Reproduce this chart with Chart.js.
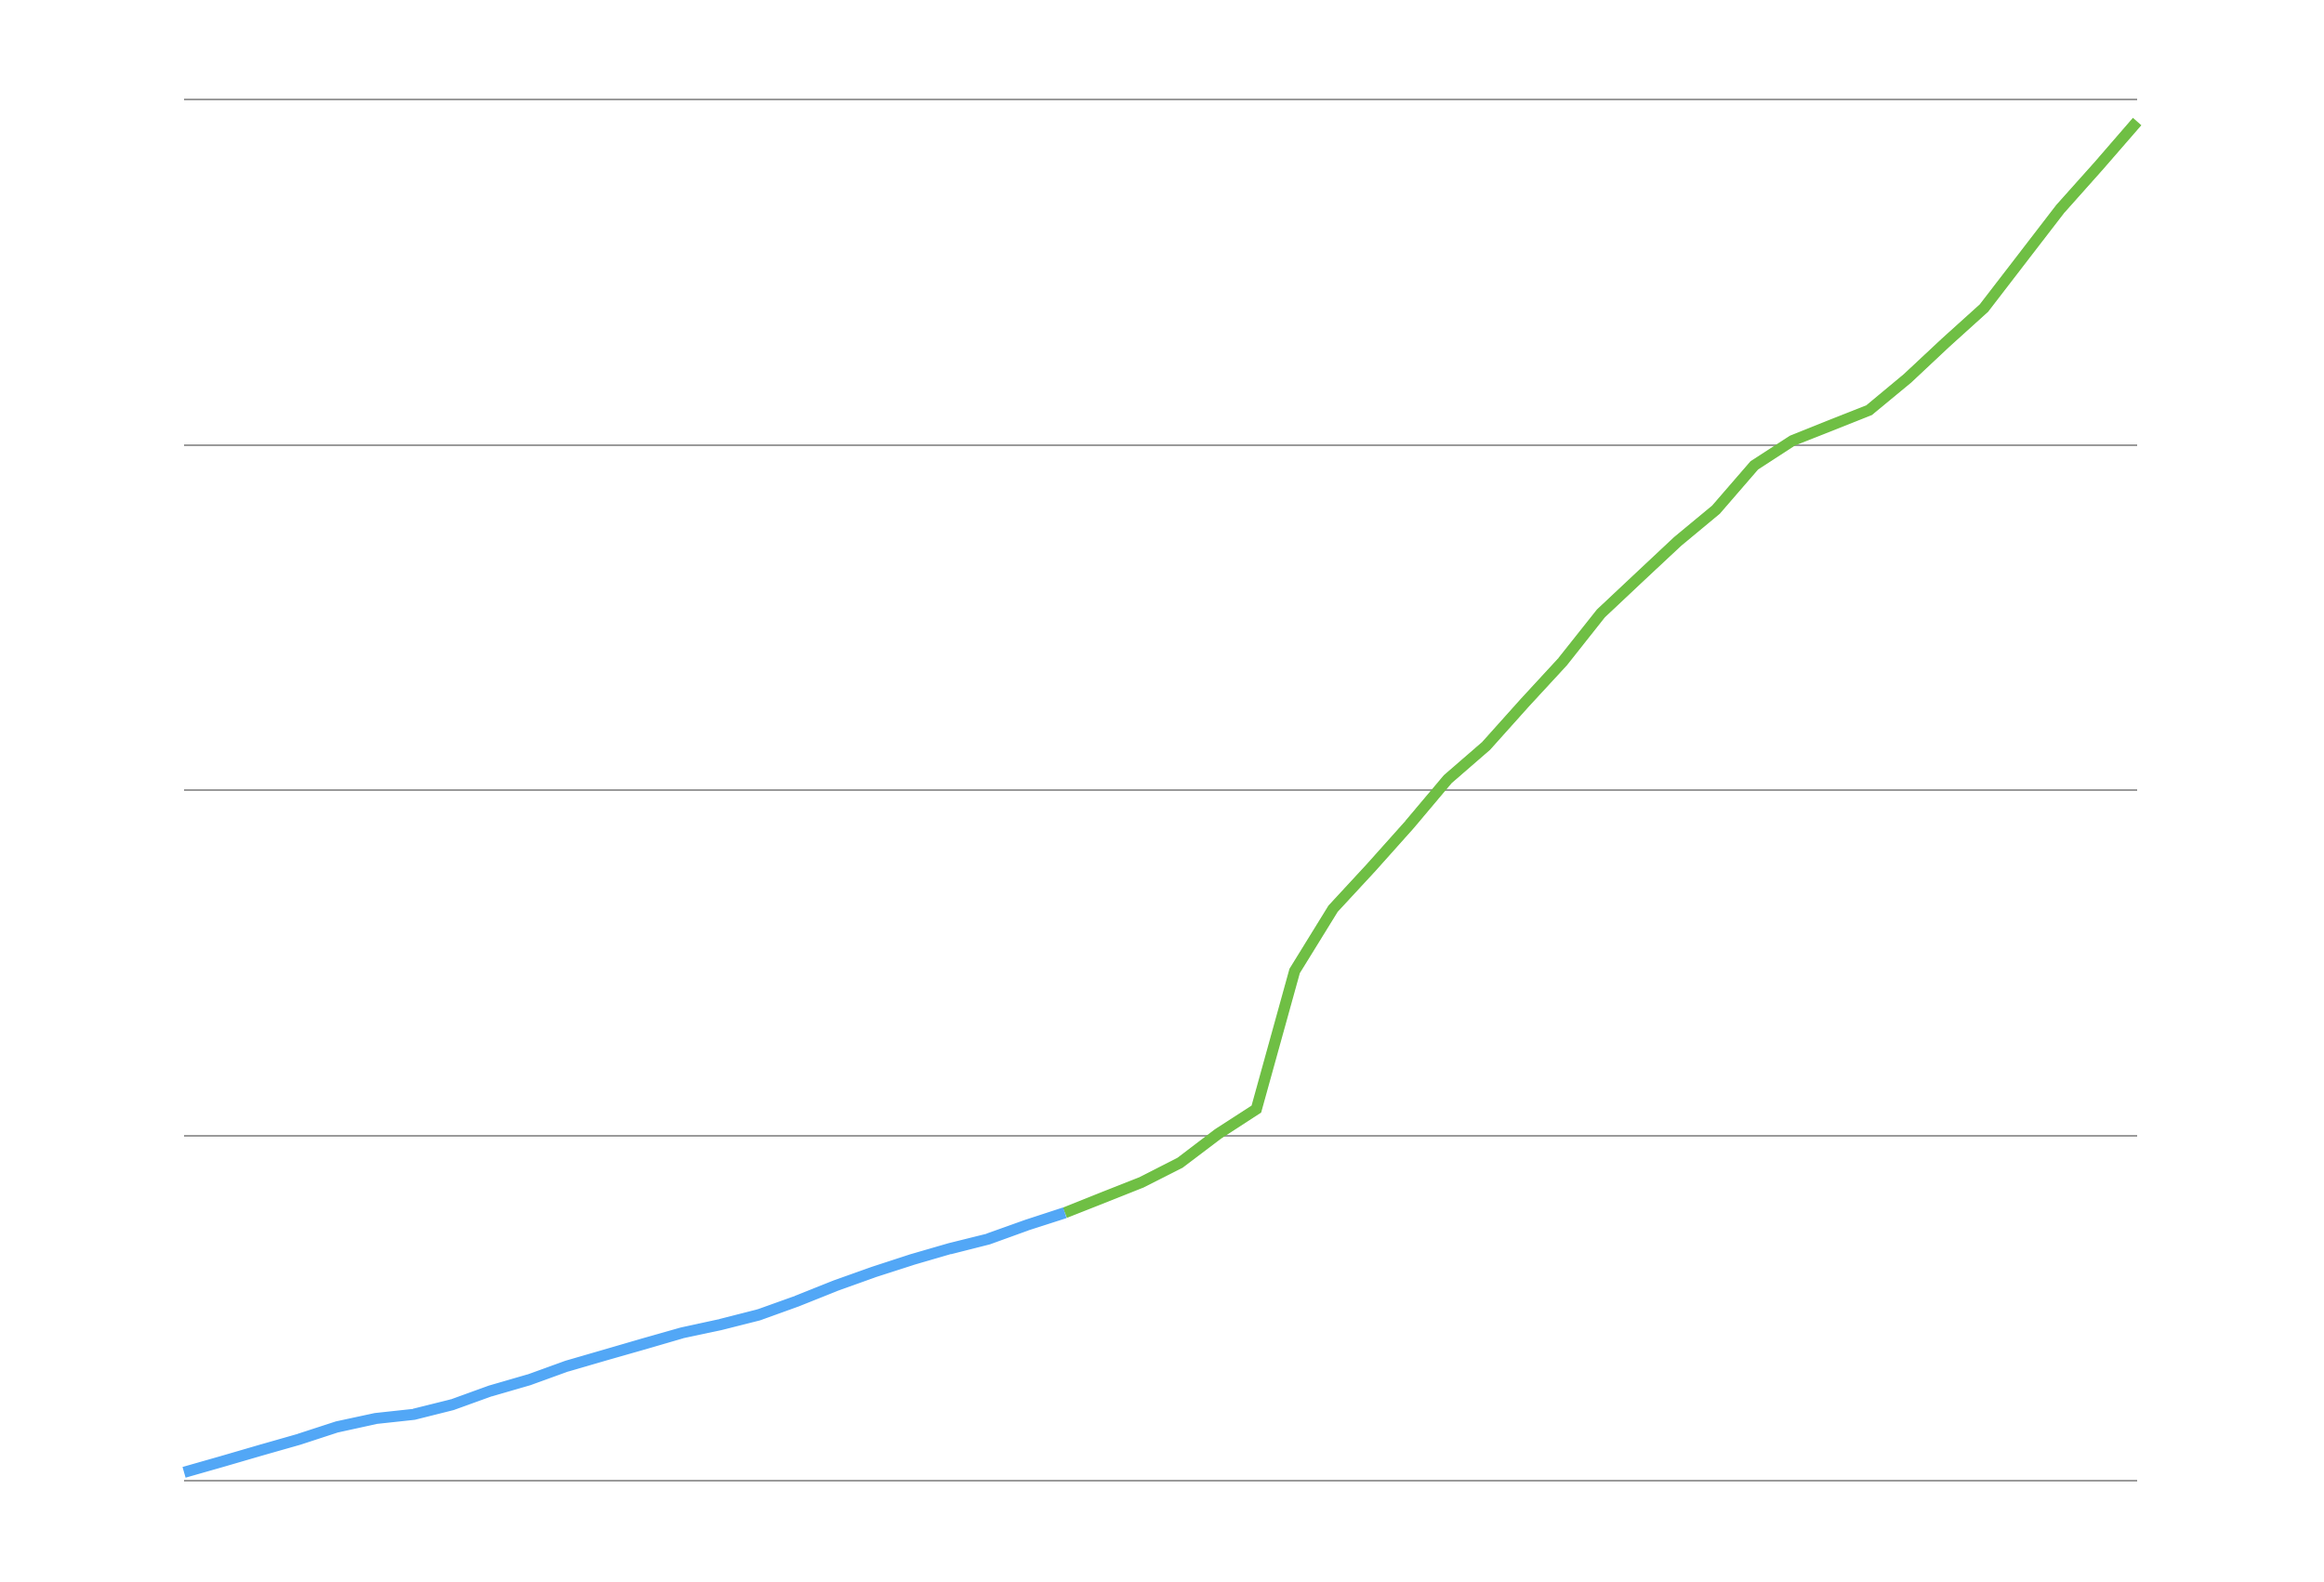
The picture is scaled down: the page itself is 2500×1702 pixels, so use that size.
<!DOCTYPE html>
<html>
<head>
<meta charset="utf-8">
<title>Growth line</title>
<script src="https://cdn.jsdelivr.net/npm/chart.js@4.4.1/dist/chart.umd.min.js"></script>
<style>
    html, body {
        margin: 0;
        padding: 0;
        background: #ffffff;
    }
    #chartBox {
        width: 2500px;
        height: 1702px;
    }
</style>
</head>
<body>
<div id="chartBox">
    <canvas id="growthChart"></canvas>
</div>
<script>
// Data (52 points, value scale 0-100)
const labels = ['1', '2', '3', '4', '5', '6', '7', '8', '9', '10', '11', '12', '13',
    '14', '15', '16', '17', '18', '19', '20', '21', '22', '23', '24', '25', '26',
    '27', '28', '29', '30', '31', '32', '33', '34', '35', '36', '37', '38', '39',
    '40', '41', '42', '43', '44', '45', '46', '47', '48', '49', '50', '51', '52'];

// first part of the line (blue), points 1-24
const blueValues = [0.6, 1.4, 2.2, 3.0, 3.9, 4.5, 4.8, 5.5, 6.5, 7.3, 8.3, 9.1,
    9.9, 10.7, 11.3, 12.0, 13.0, 14.1, 15.1, 16.0, 16.8, 17.5, 18.5, 19.4];

// second part of the line (green), points 24-52
const greenValues = [19.4, 20.5, 21.6, 23.0, 25.1, 26.9, 36.9, 41.4, 44.4, 47.5,
    50.8, 53.2, 56.3, 59.3, 62.8, 65.4, 68.0, 70.3, 73.5, 75.3, 76.4, 77.5, 79.8,
    82.4, 84.9, 88.5, 92.1, 95.2, 98.4];

const yTicks = [0, 25, 50, 75, 100];

// pad the two series with nulls so they share one category axis
const blueData = blueValues.concat(new Array(labels.length - blueValues.length).fill(null));
const greenData = new Array(labels.length - greenValues.length).fill(null).concat(greenValues);

const ctx = document.getElementById('growthChart').getContext('2d');

const growthChart = new Chart(ctx, {
    type: 'line',
    data: {
        labels: labels,
        datasets: [
            {
                label: 'before',
                data: blueData,
                borderColor: '#52a7f6',
                borderWidth: 12,
                pointRadius: 0,
                tension: 0,
                fill: false
            },
            {
                label: 'after',
                data: greenData,
                borderColor: '#6fbf44',
                borderWidth: 12,
                pointRadius: 0,
                tension: 0,
                fill: false
            }
        ]
    },
    options: {
        responsive: true,
        maintainAspectRatio: false,
        devicePixelRatio: 1,
        animation: false,
        layout: {
            padding: {
                left: 198,
                right: 201,
                top: 107,
                bottom: 109
            }
        },
        plugins: {
            legend: {
                display: false
            },
            tooltip: {
                enabled: false
            }
        },
        scales: {
            x: {
                display: false
            },
            y: {
                min: yTicks[0],
                max: yTicks[yTicks.length - 1],
                afterBuildTicks: function (axis) {
                    axis.ticks = yTicks.map(v => ({ value: v }));
                },
                border: {
                    display: false
                },
                grid: {
                    color: '#9a9a9a',
                    lineWidth: 2,
                    drawTicks: false
                },
                ticks: {
                    display: false
                }
            }
        }
    }
});
</script>
</body>
</html>
